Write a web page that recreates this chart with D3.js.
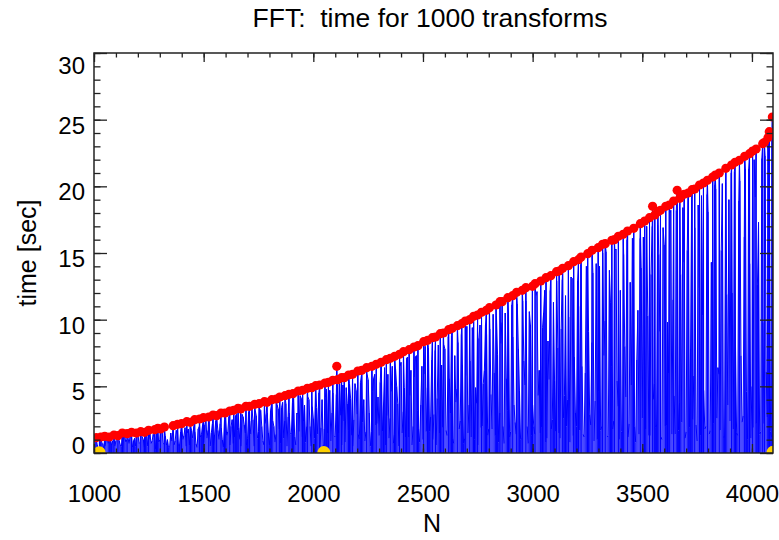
<!DOCTYPE html>
<html><head><meta charset="utf-8">
<script src="https://cdn.jsdelivr.net/npm/d3@7"></script>
<style>
body{margin:0;background:#fff}
text{font-family:"Liberation Sans",Arial,Helvetica,sans-serif;fill:#000}
</style>
</head><body>
<svg id="c" width="779" height="540"></svg>
<script>
// ---- data ----
const titleText = "FFT:  time for 1000 transforms";
const xLabel = "N";
const yLabel = "time [sec]";
const xTicks = [1000,1500,2000,2500,3000,3500,4000];
const yTicks = [0,5,10,15,20,25,30];
// blue series sampled every 10 N starting at 1000 (times in sec)
const gridStart = 1000, gridStep = 10;
const blueT = [
0.8,1.0,0.1,1.1,0.7,0.5,1.1,0.9,0.6,1.0,
0.9,1.3,0.6,0.3,1.3,1.0,0.7,1.2,0.9,0.5,
1.5,0.8,1.2,0.4,1.5,1.0,0.7,1.4,0.3,1.3,
1.0,1.8,0.7,0.6,0.4,1.5,1.8,0.9,1.4,0.6,
2.1,1.3,0.5,1.8,2.1,1.1,1.6,0.4,2.0,1.4,
0.8,2.5,1.7,0.5,2.2,1.4,2.5,1.0,1.9,0.4,
2.8,1.6,0.6,2.5,1.2,2.9,1.9,0.5,2.7,1.5,
1.1,2.4,3.3,0.5,2.8,1.6,3.2,0.9,2.2,3.0,
0.6,3.7,2.0,1.4,3.3,0.7,3.8,2.4,0.5,3.0,
1.5,4.2,0.6,2.9,4.3,1.2,3.6,2.0,4.0,0.5,
2.6,4.7,1.4,0.4,4.0,1.8,4.8,3.1,0.9,4.5,
1.2,3.6,5.2,0.6,2.4,4.9,1.7,4.1,0.5,5.2,
2.9,1.0,5.9,4.0,1.6,5.5,0.5,4.6,5.9,2.2,
1.3,6.5,3.6,0.6,5.9,2.6,6.5,1.4,5.0,0.5,
6.8,3.1,1.2,7.2,4.3,0.6,5.7,7.3,1.8,3.6,
1.0,8.0,4.9,1.6,7.0,2.9,0.6,8.1,4.0,1.9,
7.8,1.3,5.6,8.8,0.7,3.8,8.3,2.4,6.6,1.1,
9.5,3.6,1.2,7.6,4.9,0.6,9.6,2.0,6.2,8.9,
1.8,4.4,10.4,1.3,7.4,3.0,9.8,0.7,5.6,10.5,
1.6,8.7,2.3,11.2,4.7,1.1,6.9,11.4,0.7,9.6,
3.6,1.4,12.1,6.2,1.9,10.5,0.8,8.4,12.2,2.5,
5.4,12.9,1.5,9.3,2.6,11.8,4.0,0.8,13.1,7.2,
2.0,11.0,14.1,1.4,6.0,13.2,2.9,8.3,0.9,14.2,
4.6,1.7,15.0,9.9,1.2,13.7,6.5,2.4,15.3,3.5,
12.2,1.5,8.0,16.0,2.2,5.1,14.6,0.8,10.7,16.1,
2.6,6.6,17.0,1.3,13.4,4.0,1.9,17.1,9.1,1.0,
15.6,2.1,6.0,18.2,11.5,1.4,18.3,3.8,2.3,14.3,
1.6,19.1,7.8,2.5,16.9,0.9,12.4,19.3,4.7,2.0,
18.1,1.7,10.1,20.1,2.6,5.9,15.2,1.2,20.3,3.6,
2.4,12.0,21.1,1.5,18.9,7.3,2.8,21.3,1.0,14.2,
5.0,22.0,2.2,17.3,1.6,9.8,22.3,2.7,19.8,1.2
];
// second blue sample set, every 10 N starting at 1005
const gridStart2 = 1005;
const blueT2 = [
1.0,0.6,1.1,0.8,0.3,1.0,0.7,1.1,0.9,0.5,
1.2,0.9,0.5,1.3,0.8,1.1,1.3,0.4,1.1,1.2,
0.7,1.4,1.0,1.3,0.5,1.5,0.9,1.2,1.5,0.8,
1.5,0.7,1.3,1.0,0.5,0.9,0.6,1.7,0.6,1.6,
1.0,1.9,1.5,0.6,1.7,2.0,0.7,1.8,1.2,2.1,
2.1,1.1,2.4,1.5,0.6,2.4,1.7,2.2,1.0,2.5,
1.3,2.7,2.0,0.7,2.8,1.7,1.0,2.9,2.1,0.6,
3.1,1.4,2.5,3.2,1.1,3.3,2.0,0.6,2.9,1.5,
3.2,2.4,0.8,3.6,1.8,3.4,1.1,3.7,2.7,1.4,
3.8,1.2,3.0,1.6,4.1,2.4,0.8,4.2,2.0,3.5,
1.1,3.4,4.5,1.9,0.6,4.2,1.5,4.7,3.0,1.3,
4.4,1.5,2.8,5.1,0.8,3.7,5.2,1.3,2.5,4.7,
1.4,5.3,2.3,0.9,5.9,3.0,1.6,5.6,2.1,4.2,
5.3,1.6,6.4,2.8,1.1,4.6,0.7,6.3,3.7,6.5,
1.5,4.9,7.1,1.2,6.2,2.0,7.2,3.2,0.8,6.5,
5.9,1.6,7.9,2.7,1.0,7.7,4.1,1.5,6.6,8.1,
1.7,8.7,3.0,1.1,7.3,4.8,1.8,8.9,0.7,5.8,
1.5,6.9,9.4,1.0,3.7,8.6,1.9,5.2,9.6,1.3,
9.3,1.8,6.0,10.3,0.8,8.2,2.0,10.5,3.2,1.2,
11.1,3.6,1.4,7.8,1.0,11.4,5.1,2.0,10.6,1.3,
2.0,11.8,4.3,1.5,9.4,12.2,1.1,5.5,1.8,11.3,
1.6,7.9,1.1,13.0,4.3,2.0,10.2,13.2,1.3,3.0,
12.9,1.7,6.5,1.2,14.0,9.1,2.1,13.5,3.9,1.0,
14.0,2.0,7.3,15.1,1.3,11.3,1.8,15.2,5.4,1.0,
1.6,14.9,4.2,1.2,12.8,16.1,2.0,7.0,1.4,13.9,
16.2,1.8,10.3,1.3,17.0,5.2,2.1,14.9,1.2,16.9,
2.0,9.8,18.0,1.4,4.3,18.2,1.7,13.4,18.4,1.1,
15.2,1.9,19.0,5.8,2.1,18.6,1.3,10.3,1.8,19.4,
1.4,14.3,2.2,19.8,6.4,1.7,20.2,1.2,11.9,19.0,
21.0,1.8,8.1,1.3,20.4,2.3,16.2,4.6,21.3,1.1,
1.9,19.2,12.6,1.4,22.1,2.2,6.1,21.6,1.6,22.5
];
// slow sizes (red dots): [N, time]
const redPts = [
[1009,1.15],[1031,1.2],[1049,1.25],[1069,1.2],[1091,1.35],[1109,1.3],[1129,1.5],[1151,1.45],[1171,1.55],[1193,1.5],
[1213,1.6],[1231,1.55],[1249,1.7],[1277,1.75],[1291,1.85],[1303,1.8],[1321,1.95],[1361,2.05],[1381,2.15],[1399,2.2],
[1423,2.35],[1439,2.3],[1459,2.5],[1481,2.55],[1499,2.65],[1523,2.7],[1543,2.85],[1559,2.8],[1579,3.0],[1597,3.0],
[1619,3.15],[1637,3.2],[1657,3.35],[1669,3.3],[1693,3.5],[1709,3.5],[1733,3.65],[1753,3.7],[1777,3.85],[1789,3.8],
[1811,4.0],[1831,4.05],[1847,4.2],[1871,4.3],[1889,4.4],[1907,4.45],[1931,4.65],[1951,4.7],[1973,4.85],[1993,4.9],
[2011,5.05],[2029,5.1],[2053,5.25],[2069,5.3],[2089,5.45],[2107,6.5],[2111,5.5],[2129,5.65],[2141,5.65],[2161,5.85],
[2179,5.9],[2203,6.15],[2221,6.2],[2243,6.4],[2267,6.5],[2287,6.65],[2309,6.8],[2333,7.0],[2351,7.1],[2371,7.25],
[2393,7.4],[2411,7.6],[2437,7.75],[2459,7.95],[2477,8.05],[2503,8.35],[2521,8.45],[2543,8.65],[2557,8.7],[2579,8.95],
[2593,9.0],[2617,9.25],[2633,9.35],[2657,9.55],[2677,9.7],[2693,9.9],[2713,10.0],[2731,10.25],[2749,10.35],[2767,10.55],
[2789,10.7],[2803,10.9],[2833,11.1],[2851,11.35],[2861,11.35],[2887,11.65],[2909,11.8],[2927,12.05],[2953,12.2],[2969,12.4],
[2999,12.5],[3011,12.7],[3037,12.9],[3061,13.15],[3083,13.3],[3109,13.6],[3121,13.65],[3137,13.85],[3163,14.05],[3187,14.35],
[3209,14.5],[3221,14.7],[3251,14.95],[3271,15.2],[3299,15.4],[3319,15.65],[3331,15.7],[3361,15.95],[3373,16.0],[3391,16.25],
[3413,16.4],[3433,16.65],[3461,16.85],[3491,17.2],[3511,17.4],[3533,17.65],[3547,18.5],[3557,17.85],[3571,18.1],[3583,18.2],
[3607,18.5],[3623,18.6],[3643,18.9],[3659,19.7],[3671,19.1],[3691,19.4],[3709,19.5],[3727,19.75],[3739,19.8],[3761,20.1],
[3779,20.25],[3797,20.45],[3821,20.7],[3833,20.85],[3851,21.0],[3881,21.35],[3907,21.6],[3923,21.8],[3943,21.95],[3967,22.25],
[3989,22.45],[4003,22.65],[4019,22.8],[4049,23.2],[4057,23.3],[4073,23.65],[4079,24.1],[4091,24.0],[4093,25.2]
];
// powers of two (yellow dots)
const powN = [1024,2048,4096];
const powT = [0.02,0.03,0.05];

// ---- layout ----
const L=94, R=773, T=53, B=453;
const svg = d3.select("#c");
const x = d3.scaleLinear().domain([1000,4096]).range([L,R]);
const y = d3.scaleLinear().domain([0,30]).range([B,T]);

svg.append("defs").append("clipPath").attr("id","clip")
  .append("rect").attr("x",L).attr("y",T).attr("width",R-L).attr("height",B-T);

const gridPts = blueT.map((t,i)=>({n:gridStart+i*gridStep,t}))
  .concat(blueT2.map((t,i)=>({n:gridStart2+i*gridStep,t})));
const redObjs = redPts.map(d=>({n:d[0],t:d[1]}));
const powObjs = powN.map((n,i)=>({n,t:powT[i]}));
const allPts = gridPts.concat(redObjs, powObjs).sort((a,b)=>a.n-b.n);

const plot = svg.append("g").attr("clip-path","url(#clip)");
// dense curve: each sample also drawn as a drop from the axis (the look of 3000 densely packed samples)
plot.append("g").selectAll("line").data(allPts).join("line")
  .attr("x1",d=>x(d.n)).attr("x2",d=>x(d.n)).attr("y1",d=>y(d.t)).attr("y2",y(0))
  .attr("stroke","#0000ff").attr("stroke-width",1);
plot.append("path").datum(allPts)
  .attr("d", d3.line().x(d=>x(d.n)).y(d=>y(d.t)))
  .attr("fill","none").attr("stroke","#0000ff").attr("stroke-width",1);
plot.selectAll("circle.r").data(redObjs).join("circle").attr("class","r")
  .attr("cx",d=>x(d.n)).attr("cy",d=>y(d.t)).attr("r",4.6).attr("fill","#ff0000");
plot.selectAll("circle.p").data(powObjs).join("circle").attr("class","p")
  .attr("cx",d=>x(d.n)).attr("cy",d=>y(d.t)).attr("r",6.5).attr("fill","#fdd000");

// ---- axes ----
const xMinor = d3.range(1000,4097,100);
const yMinor = d3.range(0,31,1);
function styleAxis(g){ g.select(".domain").remove(); g.selectAll("line").attr("stroke","#222").attr("stroke-width",1.3); }
svg.append("g").attr("transform",`translate(0,${B})`).call(d3.axisBottom(x).tickValues(xMinor).tickSize(-4.5).tickFormat("")).call(styleAxis);
svg.append("g").attr("transform",`translate(0,${T})`).call(d3.axisTop(x).tickValues(xMinor).tickSize(-4.5).tickFormat("")).call(styleAxis);
svg.append("g").attr("transform",`translate(${L},0)`).call(d3.axisLeft(y).tickValues(yMinor).tickSize(-6.5).tickFormat("")).call(styleAxis);
svg.append("g").attr("transform",`translate(${R},0)`).call(d3.axisRight(y).tickValues(yMinor).tickSize(-6.5).tickFormat("")).call(styleAxis);

const gxb = svg.append("g").attr("transform",`translate(0,${B})`)
  .call(d3.axisBottom(x).tickValues(xTicks).tickSize(-9).tickFormat(d3.format("d"))).call(styleAxis);
gxb.selectAll("text").attr("font-size",24).attr("dy",null).attr("y",49);
svg.append("g").attr("transform",`translate(0,${T})`)
  .call(d3.axisTop(x).tickValues(xTicks).tickSize(-9).tickFormat("")).call(styleAxis);
const gyl = svg.append("g").attr("transform",`translate(${L},0)`)
  .call(d3.axisLeft(y).tickValues(yTicks).tickSize(-13).tickFormat(d3.format("d"))).call(styleAxis);
gyl.selectAll("text").attr("font-size",24).attr("x",-9).attr("dy","0.35em")
  .attr("transform",d=> d===0 ? "translate(0,-8)" : d===30 ? "translate(0,12)" : "translate(0,5)");
svg.append("g").attr("transform",`translate(${R},0)`)
  .call(d3.axisRight(y).tickValues(yTicks).tickSize(-13).tickFormat("")).call(styleAxis);

// frame
svg.append("rect").attr("x",L).attr("y",T).attr("width",R-L).attr("height",B-T)
  .attr("fill","none").attr("stroke","#222").attr("stroke-width",1.5);

// titles
svg.append("text").attr("x",430).attr("y",27).attr("text-anchor","middle").attr("font-size",26.5)
  .style("white-space","pre").text(titleText);
svg.append("text").attr("x",432).attr("y",532).attr("text-anchor","middle").attr("font-size",25).text(xLabel);
svg.append("text").attr("transform","translate(27,253) rotate(-90)").attr("text-anchor","middle")
  .attr("dominant-baseline","central").attr("font-size",25).text(yLabel);
</script>
</body></html>
